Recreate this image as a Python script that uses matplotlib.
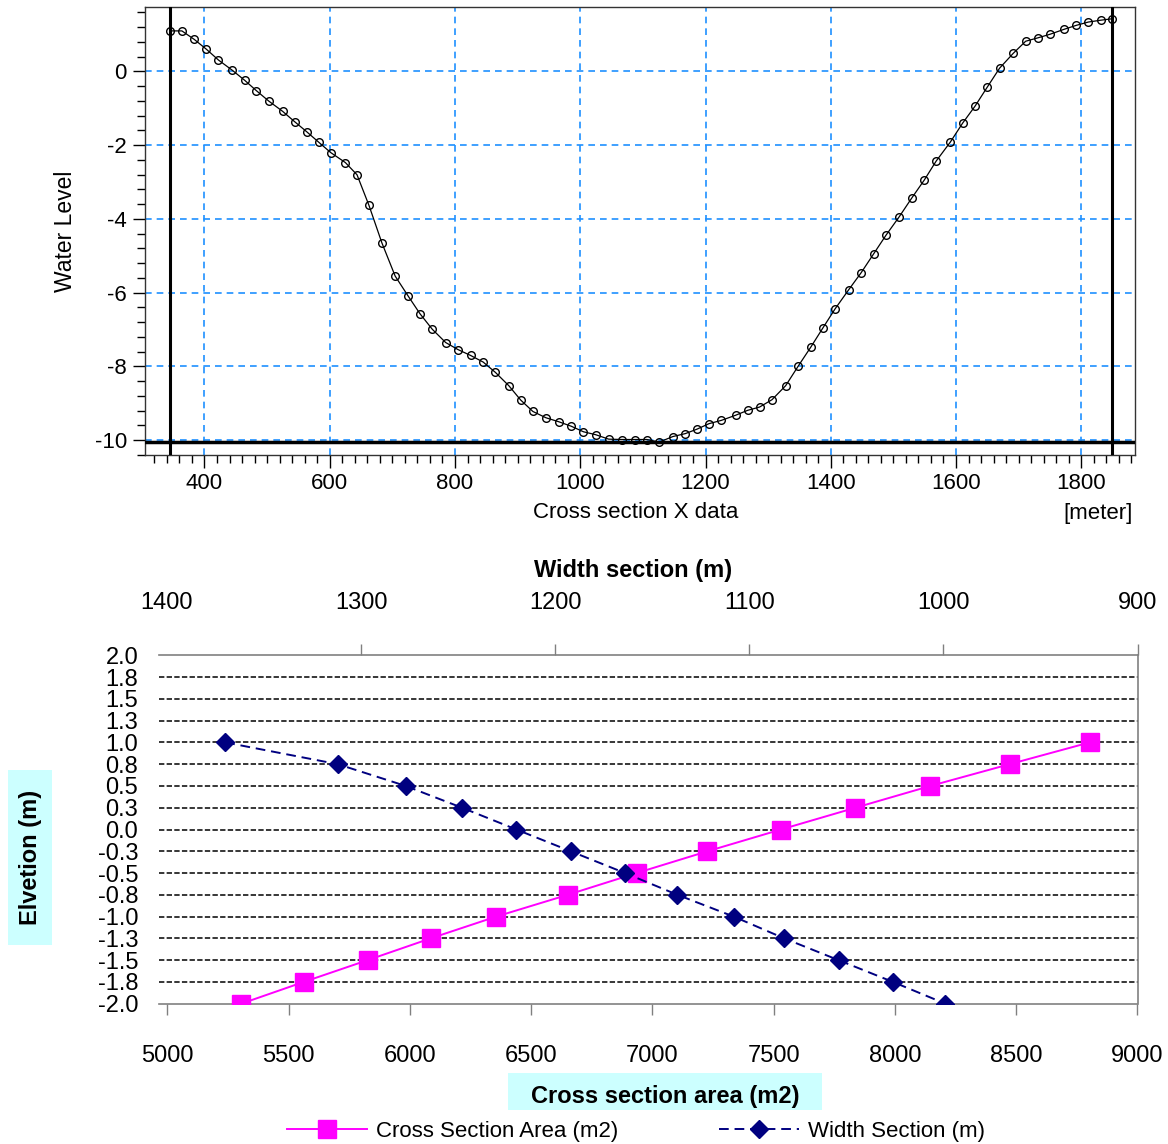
import numpy as np
import matplotlib
matplotlib.use("Agg")
import matplotlib.pyplot as plt
from matplotlib.patches import Rectangle

plt.rcParams['font.family'] = ['Liberation Sans', 'DejaVu Sans']
plt.rcParams['axes.unicode_minus'] = False

# ---------------- data: top chart (cross section profile) ----------------
section_x = [344.3, 363.9, 383.6, 403.2, 422.3, 444.6, 464.2, 482.8, 502.4, 524.7,
             543.8, 562.9, 582.5, 601.6, 624.9, 643.5, 662.6, 683.3, 704.5, 725.2,
             744.1, 763.7, 785.1, 804.6, 824.8, 845.0, 864.5, 885.9, 904.9, 924.4,
             945.2, 966.0, 985.6, 1005.1, 1024.7, 1045.3, 1067.1, 1087.0, 1106.2, 1126.1,
             1147.8, 1167.7, 1186.3, 1205.6, 1225.5, 1248.4, 1267.1, 1286.3, 1306.2, 1328.0,
             1348.4, 1368.3, 1387.6, 1406.8, 1428.6, 1448.4, 1468.3, 1488.2, 1509.3, 1529.8,
             1549.1, 1568.3, 1590.7, 1610.6, 1630.4, 1649.7, 1669.6, 1691.3, 1711.2, 1730.4,
             1750.3, 1772.0, 1791.9, 1811.2, 1831.1, 1849.7]
section_z = [1.10, 1.10, 0.87, 0.60, 0.31, 0.03, -0.24, -0.52, -0.80, -1.08,
             -1.36, -1.63, -1.92, -2.20, -2.47, -2.80, -3.63, -4.65, -5.55, -6.09,
             -6.57, -6.99, -7.35, -7.54, -7.70, -7.88, -8.16, -8.52, -8.91, -9.22,
             -9.39, -9.50, -9.62, -9.77, -9.85, -9.97, -9.98, -9.98, -9.98, -10.05,
             -9.90, -9.82, -9.70, -9.55, -9.46, -9.32, -9.19, -9.10, -8.90, -8.52,
             -7.98, -7.47, -6.95, -6.44, -5.92, -5.46, -4.95, -4.44, -3.94, -3.42,
             -2.95, -2.43, -1.92, -1.40, -0.94, -0.43, 0.09, 0.49, 0.82, 0.91,
             1.01, 1.14, 1.25, 1.34, 1.39, 1.43]
top_xticks = [400, 600, 800, 1000, 1200, 1400, 1600, 1800]
top_yticks = [0, -2, -4, -6, -8, -10]

# ---------------- data: bottom chart ----------------
elevation = [1.0, 0.75, 0.5, 0.25, 0.0, -0.25, -0.5, -0.75, -1.0, -1.25, -1.5, -1.75, -2.0]
cross_area = [8803, 8473, 8146, 7837, 7530, 7227, 6935, 6651, 6356, 6086, 5826, 5563, 5305]
width_sec = [1370, 1312, 1277, 1248, 1220, 1192, 1164, 1137, 1108, 1082, 1054, 1026, 999]
elev_ticks = [2.0, 1.75, 1.5, 1.25, 1.0, 0.75, 0.5, 0.25, 0.0, -0.25, -0.5, -0.75,
              -1.0, -1.25, -1.5, -1.75, -2.0]
elev_labels = ['2.0', '1.8', '1.5', '1.3', '1.0', '0.8', '0.5', '0.3', '0.0', '-0.3', '-0.5',
               '-0.8', '-1.0', '-1.3', '-1.5', '-1.8', '-2.0']
area_ticks = [5000, 5500, 6000, 6500, 7000, 7500, 8000, 8500, 9000]
width_ticks = [1400, 1300, 1200, 1100, 1000, 900]

W, H = 1168, 1144
fig = plt.figure(figsize=(W / 100, H / 100), dpi=100)


def fx(px):
    return px / W


def fy(py):
    return 1 - py / H


# ================= top chart =================
ax = fig.add_axes([fx(145), fy(455), fx(1134.5) - fx(145), fy(7.3) - fy(455)])
ax.plot(section_x, section_z, color='black', lw=0.9, marker='o', ms=5.5,
        mfc='none', mec='black', mew=1.0, zorder=3)
ax.axvline(section_x[0], color='black', lw=2.2, zorder=4)
ax.axvline(section_x[-1], color='black', lw=2.2, zorder=4)
ax.axhline(min(section_z), color='black', lw=2.5, zorder=4)
ax.set_xlim(305, 1885)
ax.set_ylim(-10.36, 1.74)
ax.set_xticks(top_xticks)
ax.set_yticks(top_yticks)
ax.set_xticks(np.arange(320, 1885, 20), minor=True)
ax.set_yticks(np.arange(-10.4, 1.8, 0.4), minor=True)
ax.grid(True, which='major', color='#1E90FF', ls=(0, (4, 3)), lw=1.2)
ax.tick_params(axis='both', which='major', direction='out', length=9, width=1,
               labelsize=16, colors='black')
ax.tick_params(axis='both', which='minor', direction='out', length=5.5, width=1)
ax.tick_params(axis='x', pad=4)
ax.tick_params(axis='y', pad=4)
for s in ax.spines.values():
    s.set_color('#333333')
    s.set_linewidth(1.0)

fig.text(fx(636), fy(513), 'Cross section X data', ha='center', va='center', fontsize=16)
fig.text(fx(1133), fy(513), '[meter]', ha='right', va='center', fontsize=16)
fig.text(fx(66), fy(231), 'Water Level', ha='center', va='center', rotation=90, fontsize=16.5)

# ================= bottom chart =================
ax2 = fig.add_axes([fx(159), fy(1003.7), fx(1137.5) - fx(159), fy(655.3) - fy(1003.7)])
l1, = ax2.plot(cross_area, elevation, color='#FF00FF', lw=1.4, marker='s', ms=13,
               mfc='#FF00FF', mec='#FF00FF', zorder=4, label='Cross Section Area (m2)')
ax2.set_xlim(4966, 9000)
ax2.set_ylim(-2.0, 2.0)
ax2.set_xticks(area_ticks)
ax2.set_yticks(elev_ticks)
ax2.set_yticklabels(elev_labels)
for v in elev_ticks[1:-1]:
    ax2.axhline(v, color='black', ls=(0, (3.5, 1.5)), lw=1.1, zorder=1)
ax2.tick_params(axis='x', direction='out', length=8, width=1, color='#808080',
                labelsize=17, pad=22)
ax2.tick_params(axis='y', length=0, labelsize=17, pad=15)
ax2.spines['left'].set_visible(False)
ax2.spines['top'].set_visible(False)
for k in ('bottom', 'right'):
    ax2.spines[k].set_color('#808080')
    ax2.spines[k].set_linewidth(1.2)
ax2.xaxis.get_major_ticks()[0].tick1line.set_visible(False)

ax3 = ax2.twiny()
l2, = ax3.plot(width_sec, elevation, color='#000080', lw=1.4, ls=(0, (5, 3)), marker='D',
               ms=9.5, mfc='#000080', mec='#000080', zorder=5, label='Width Section (m)')
ax3.set_xlim(1404.1, 900)
ax3.set_xticks(width_ticks)
ax3.tick_params(axis='x', direction='out', length=8, width=1, color='#808080',
                labelsize=17, pad=22)
for k in ('bottom', 'left', 'right'):
    ax3.spines[k].set_visible(False)
ax3.spines['top'].set_color('#808080')
ax3.spines['top'].set_linewidth(1.2)
ax3.xaxis.get_major_ticks()[0].tick2line.set_visible(False)

fig.text(fx(633), fy(571), 'Width section (m)', ha='center', va='center',
         fontsize=17, fontweight='bold')

# cyan label boxes
fig.patches.append(Rectangle((fx(8), fy(945)), fx(52) - fx(8), fy(770) - fy(945),
                             transform=fig.transFigure, facecolor='#CCFFFF',
                             edgecolor='none', zorder=0))
fig.text(fx(31), fy(857), 'Elvetion (m)', ha='center', va='center', rotation=90,
         fontsize=17, fontweight='bold')
fig.patches.append(Rectangle((fx(508), fy(1110)), fx(822) - fx(508), fy(1073) - fy(1110),
                             transform=fig.transFigure, facecolor='#CCFFFF',
                             edgecolor='none', zorder=0))
fig.text(fx(665), fy(1097), 'Cross section area (m2)', ha='center', va='center',
         fontsize=17, fontweight='bold')

fig.legend(handles=[l1, l2], loc='center', bbox_to_anchor=(fx(636), fy(1131)),
           ncol=2, frameon=False, fontsize=16, handlelength=3.6, handletextpad=0.4,
           columnspacing=4.5, borderpad=0, borderaxespad=0)

fig.savefig('out.png', dpi=100)
